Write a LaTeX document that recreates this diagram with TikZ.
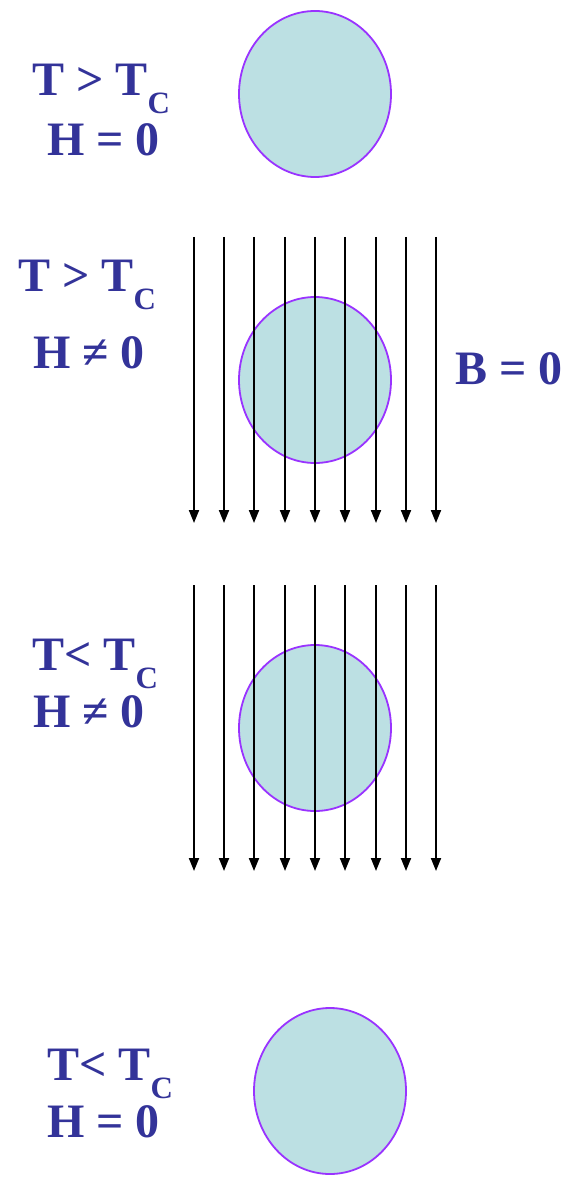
\documentclass[tikz,border=0pt]{standalone}
\usepackage{fontspec}
\setmainfont{Liberation Serif}
\usetikzlibrary{arrows.meta,shapes.geometric}
\definecolor{txtblue}{RGB}{51,51,153}
\definecolor{ballfill}{RGB}{188,224,227}
\definecolor{ballline}{RGB}{153,51,255}
\newcommand{\subC}{\raisebox{-18pt}{\fontsize{31}{31}\selectfont C}}
\begin{document}
\begin{tikzpicture}[x=1pt,y=-1pt,
  ball/.style={ellipse,draw=ballline,fill=ballfill,line width=1.8pt,minimum width=152pt,minimum height=166pt,inner sep=0},
  lbl/.style={anchor=base west,inner sep=0,text=txtblue,font=\fontsize{48}{48}\selectfont\bfseries},
  fieldline/.style={line width=1.9pt,-{Triangle[length=13pt,width=10pt]}}]
\useasboundingbox (0,0) rectangle (577,1182);
% circles
\node[ball] (b1) at (315,94) {};
\node[ball] (b2) at (315,380) {};
\node[ball] (b3) at (315,728) {};
\node[ball] (b4) at (330,1091) {};
% field lines
\foreach \x [count=\i] in {194,224,254,285,315,345,376,406,436}{
  \coordinate (a\i) at (\x,237);
  \coordinate (e\i) at (\x,523);
  \draw[fieldline] (a\i) -- (e\i);
  \coordinate (c\i) at (\x,585);
  \coordinate (f\i) at (\x,871);
  \draw[fieldline] (c\i) -- (f\i);
}
% labels
\node[lbl] (t1) at (32,96) {T > T\subC};
\node[lbl] (h1) at (47,156) {H = 0};
\node[lbl] (t2) at (18,291) {T > T\subC};
\node[lbl] (h2) at (33,368) {H ≠ 0};
\node[lbl] (bz) at (455,384) {B = 0};
\node[lbl] (t3) at (32,670) {T< T\subC};
\node[lbl] (h3) at (33,727) {H ≠ 0};
\node[lbl] (t4) at (47,1080) {T< T\subC};
\node[lbl] (h4) at (47,1137) {H = 0};
\end{tikzpicture}
\end{document}
